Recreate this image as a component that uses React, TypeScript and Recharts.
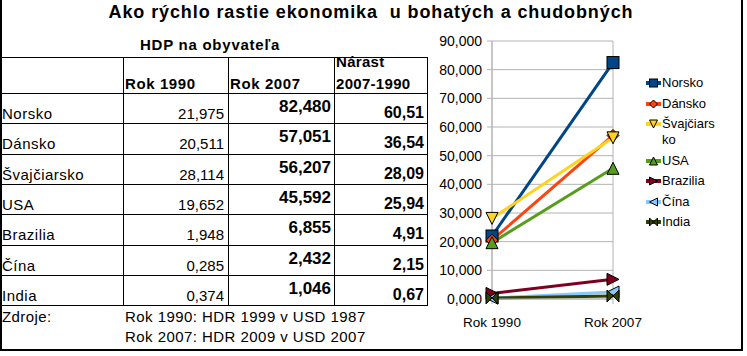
import React from 'react';
import { LineChart, Line, XAxis, YAxis, CartesianGrid, Legend } from 'recharts';

const title = 'Ako rýchlo rastie ekonomika  u bohatých a chudobných';
const subtitle = 'HDP na obyvateľa';
const headers = ['Rok 1990', 'Rok 2007'];
const growthHeader = ['Nárast', '2007-1990'];
const countries = ['Norsko', 'Dánsko', 'Švajčiarsko', 'USA', 'Brazilia', 'Čína', 'India'];
const gdp1990 = [21.975, 20.511, 28.114, 19.652, 1.948, 0.285, 0.374];
const gdp2007 = [82.48, 57.051, 56.207, 45.592, 6.855, 2.432, 1.046];
const growth = [60.51, 36.54, 28.09, 25.94, 4.91, 2.15, 0.67];
const sourcesLabel = 'Zdroje:';
const sources = ['Rok 1990: HDR 1999 v USD 1987', 'Rok 2007: HDR 2009 v USD 2007'];
const years = ['Rok 1990', 'Rok 2007'];
const yTicks = [0, 10, 20, 30, 40, 50, 60, 70, 80, 90];
const colors = ['#004586', '#ff420e', '#ffd320', '#579d1c', '#7e0021', '#83caff', '#314004'];
const shapes = ['square', 'diamond', 'down', 'up', 'right', 'left', 'bowtie'];

const data = years.map((y, yi) => {
  const row: Record<string, any> = { cat: y };
  countries.forEach((c, i) => {
    row[c] = yi === 0 ? gdp1990[i] : gdp2007[i];
  });
  return row;
});

const FONT = '"Liberation Sans", Arial, sans-serif';
const GRAY = '#b3b3b3';
const fmt = (v: number, d: number) => v.toFixed(d).replace('.', ',');

function Marker({ shape, cx, cy, s, fill }: any) {
  const h = s / 2;
  const common = { fill, stroke: '#000', strokeWidth: 1 };
  let d = '';
  switch (shape) {
    case 'square':
      return <rect x={cx - h} y={cy - h} width={s} height={s} {...common} />;
    case 'diamond':
      d = `M${cx},${cy - h}L${cx + h},${cy}L${cx},${cy + h}L${cx - h},${cy}Z`;
      break;
    case 'down':
      d = `M${cx - h},${cy - h}L${cx + h},${cy - h}L${cx},${cy + h}Z`;
      break;
    case 'up':
      d = `M${cx},${cy - h}L${cx + h},${cy + h}L${cx - h},${cy + h}Z`;
      break;
    case 'right':
      d = `M${cx - h},${cy - h}L${cx + h},${cy}L${cx - h},${cy + h}Z`;
      break;
    case 'left':
      d = `M${cx + h},${cy - h}L${cx - h},${cy}L${cx + h},${cy + h}Z`;
      break;
    case 'bowtie':
      d = `M${cx - h},${cy - h}L${cx},${cy}L${cx - h},${cy + h}ZM${cx + h},${cy - h}L${cx},${cy}L${cx + h},${cy + h}Z`;
      break;
  }
  return <path d={d} {...common} />;
}

const makeDot = (shape: string, color: string) => (p: any) => (
  <g key={`${shape}-${p.index}`}>
    <Marker shape={shape} cx={p.cx} cy={p.cy} s={12} fill={color} />
  </g>
);

const renderLegend = () => (
  <div style={{ fontFamily: FONT, fontSize: 13, color: '#000' }}>
    {countries.map((c, i) => (
      <div key={c} style={{ display: 'flex', alignItems: 'flex-start', marginBottom: 4.5 }}>
        <svg width={16} height={16} style={{ flex: 'none' }}>
          <line x1={0} y1={8} x2={15} y2={8} stroke={colors[i]} strokeWidth={4} />
          <Marker shape={shapes[i]} cx={7.5} cy={8} s={8} fill={colors[i]} />
        </svg>
        <div style={{ width: 56, lineHeight: '16px', wordBreak: 'break-all' }}>{c}</div>
      </div>
    ))}
  </div>
);

const ROW0 = 93;
const ROWH = 30.3;

function Table() {
  const hLines = [57];
  for (let i = 0; i <= countries.length; i++) hLines.push(ROW0 + ROWH * i);
  const bottom = ROW0 + ROWH * countries.length;
  const vLines = [123, 228, 334, 427];
  return (
    <svg width={747} height={356} style={{ position: 'absolute', left: 0, top: 0 }} fontFamily={FONT}>
      <text x={371} y={18} textAnchor="middle" fontSize={18} fontWeight="bold" letterSpacing={0.9} style={{ whiteSpace: 'pre' }}>
        {title}
      </text>
      <text x={210} y={50} textAnchor="middle" fontSize={15} fontWeight="bold" letterSpacing={0.75}>
        {subtitle}
      </text>
      {hLines.map((y, i) => (
        <line key={'h' + i} x1={0} x2={427.5} y1={Math.round(y) + 0.5} y2={Math.round(y) + 0.5} stroke="#000" strokeWidth={1} />
      ))}
      {vLines.map((x, i) => (
        <line key={'v' + i} x1={x + 0.5} x2={x + 0.5} y1={57} y2={Math.round(bottom) + 1} stroke="#000" strokeWidth={1} />
      ))}
      <text x={125} y={89} fontSize={15} fontWeight="bold" letterSpacing={0.6}>{headers[0]}</text>
      <text x={230} y={89} fontSize={15} fontWeight="bold" letterSpacing={0.6}>{headers[1]}</text>
      <text x={336} y={67} fontSize={15} fontWeight="bold" letterSpacing={0.3}>{growthHeader[0]}</text>
      <text x={336} y={89} fontSize={15} fontWeight="bold" letterSpacing={0.3}>{growthHeader[1]}</text>
      {countries.map((c, i) => {
        const top = ROW0 + ROWH * i;
        return (
          <g key={c}>
            <text x={2} y={top + 26} fontSize={15} letterSpacing={0.5}>{c}</text>
            <text x={224} y={top + 26} fontSize={15} textAnchor="end">{fmt(gdp1990[i], 3)}</text>
            <text x={331} y={top + 19} fontSize={17} fontWeight="bold" textAnchor="end">{fmt(gdp2007[i], 3)}</text>
            <text x={424} y={top + 25} fontSize={16} fontWeight="bold" textAnchor="end">{fmt(growth[i], 2)}</text>
          </g>
        );
      })}
      <text x={2} y={322} fontSize={15} letterSpacing={0.4}>{sourcesLabel}</text>
      <text x={125} y={322} fontSize={15} letterSpacing={0.45}>{sources[0]}</text>
      <text x={125} y={342} fontSize={15} letterSpacing={0.45}>{sources[1]}</text>
    </svg>
  );
}

export default function App() {
  return (
    <div style={{ position: 'absolute', left: 0, top: 0, width: 747, height: 356, background: '#fff', overflow: 'hidden' }}>
      <Table />
      <div style={{ position: 'absolute', left: 430, top: 0 }}>
        <LineChart width={317} height={356} data={data} margin={{ top: 41, right: 134, bottom: 27, left: 12 }}>
          <CartesianGrid stroke={GRAY} strokeWidth={1} />
          <XAxis
            dataKey="cat"
            height={30}
            axisLine={{ stroke: GRAY }}
            tickLine={{ stroke: GRAY }}
            tickSize={5}
            tickMargin={13}
            tick={{ fill: '#000', fontSize: 13.5, fontFamily: FONT }}
            interval={0}
          />
          <YAxis
            width={50}
            domain={[0, 90]}
            ticks={yTicks}
            interval={0}
            axisLine={{ stroke: GRAY }}
            tickLine={{ stroke: GRAY }}
            tickSize={5}
            tickMargin={5}
            tickFormatter={(v: number) => fmt(v, 3)}
            tick={{ fill: '#000', fontSize: 14, fontFamily: FONT }}
          />
          <Legend
            layout="vertical"
            align="center"
            verticalAlign="middle"
            content={renderLegend}
            wrapperStyle={{ position: 'absolute', left: 216, top: 75, width: 90 }}
          />
          {countries.map((c, i) => (
            <Line
              key={c}
              type="linear"
              dataKey={c}
              name={c}
              stroke={colors[i]}
              strokeWidth={3}
              dot={makeDot(shapes[i], colors[i])}
              activeDot={false}
              isAnimationActive={false}
            />
          ))}
        </LineChart>
      </div>
      <div
        style={{
          position: 'absolute',
          left: 0,
          top: -2,
          width: 743,
          height: 353,
          boxSizing: 'border-box',
          border: '2px solid #000',
          pointerEvents: 'none',
        }}
      />
    </div>
  );
}
